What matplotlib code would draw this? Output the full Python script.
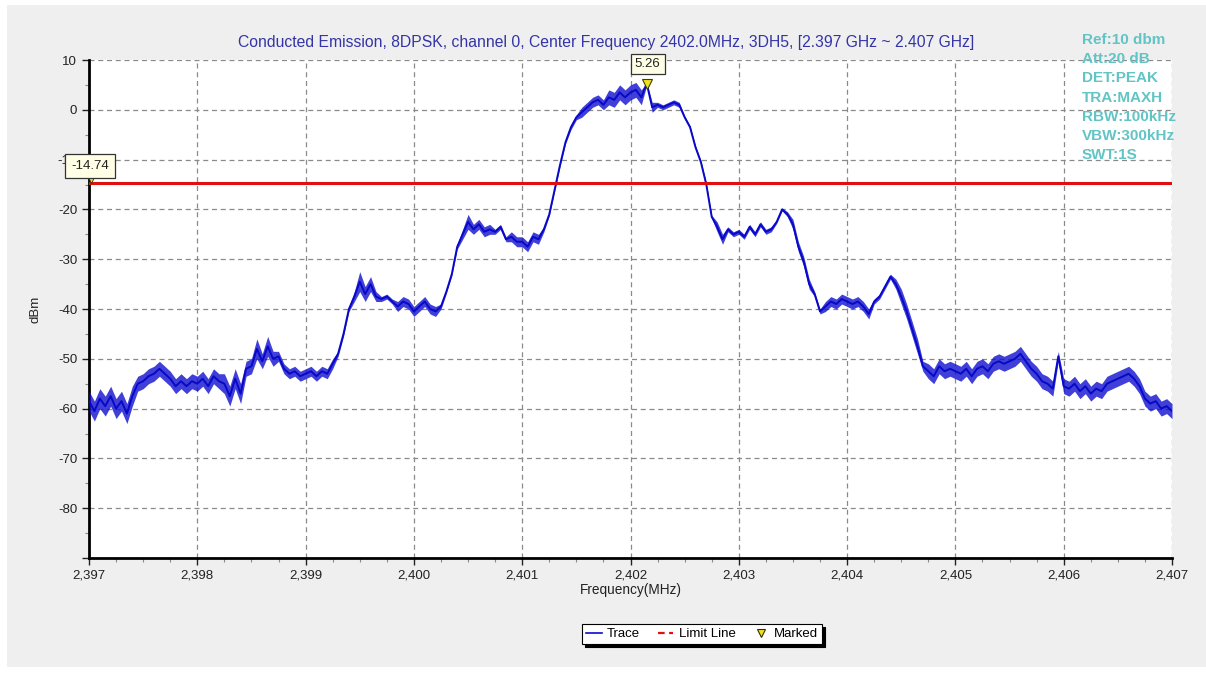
#!/usr/bin/env python3
import matplotlib
matplotlib.use("Agg")
import matplotlib.pyplot as plt
import numpy as np
from matplotlib.lines import Line2D
from matplotlib.patches import Rectangle
from matplotlib.ticker import FuncFormatter, MultipleLocator

# sweep grid, 0.05 MHz steps from 2397 to 2407 MHz
freq = np.round(np.arange(2397.0, 2407.0001, 0.05), 2)

# trace level (dBm), one row per MHz
level = (
    [-58.5, -60.5, -58, -59.5, -57.5, -60, -58.5, -61, -57.5, -55,
     -54.5, -53.5, -53, -52, -53, -54, -55.5, -54.5, -55.5, -54.5]
    + [-55, -54, -55.5, -53.5, -54.5, -55, -57.5, -54, -57, -52,
       -51.5, -48, -50.5, -47.5, -50, -49.5, -52, -53, -52.5, -53.5]
    + [-53, -52.5, -53.5, -52.5, -53, -51, -49, -45, -40, -37.5,
       -34.5, -37, -35, -37.5, -38, -37.5, -38.5, -39.5, -38.5, -39]
    + [-40.5, -39.5, -38.5, -40, -40.5, -39.5, -36.5, -33, -27.5, -25,
       -22.5, -24, -23, -24.5, -24, -24.5, -23.5, -26, -25.5, -26.5]
    + [-26.5, -27.5, -25.5, -26, -24, -21, -16, -11, -6.5, -3.5,
       -1.5, -0.5, 0.5, 1.5, 2, 1, 2.5, 2, 3.5, 2.5]
    + [3.5, 4, 2.5, 5.26, 0.5, 1, 0.5, 1, 1.5, 1,
       -1.5, -3.5, -7.5, -10.5, -15, -21.5, -23.5, -26, -24, -25]
    + [-24.5, -25.5, -23.5, -25, -23, -24.5, -24, -22.5, -20, -21,
       -23, -27.5, -30.5, -35, -37, -40.5, -39.5, -38.5, -39, -38]
    + [-38.5, -39, -38.5, -39.5, -41, -38.5, -37.5, -35.5, -33.5, -35,
       -37.5, -40.5, -44, -47.5, -51.5, -52.5, -53.5, -51.5, -52.5, -52]
    + [-52.5, -53, -52, -53.5, -52, -51.5, -52.5, -51, -50.5, -51,
       -50.5, -50, -49, -50.5, -52, -53, -54.5, -55, -56, -49.5]
    + [-55.5, -56, -55, -56.5, -55.5, -57, -56, -56.5, -55, -54.5,
       -54, -53.5, -53, -54, -55.5, -58, -59, -58.5, -60, -59.5, -60.5]
)

# half-width of the noise fuzz around the trace (dB), same grid
spread = (
    [2, 2, 2, 2, 2, 2, 2, 2, 2, 1.5, 1.5, 1.5, 1.5, 1.5, 1.5, 1.5, 1.5, 1.5, 1.5, 1.5]
    + [1.5, 1.5, 1.5, 1.5, 1.5, 2, 2, 2, 2, 1.5, 1.5, 2, 1.5, 2, 1.5, 1, 1, 1, 1, 1]
    + [1, 1, 1, 1, 1, 1, 0.5, 0.5, 0.5, 1, 2, 1.5, 1.5, 1, 0.5, 0.5, 0.5, 1, 1, 1]
    + [1, 1, 1, 1, 1, 0.5, 0.3, 0.3, 0.5, 1, 1.5, 1, 1, 1, 1, 0.5, 0.5, 0.5, 1, 1]
    + [1, 1, 1, 1, 0.5, 0.3, 0.3, 0.3, 0.3, 0.5, 0.5, 1, 1, 1, 1, 1, 1.5, 1.5, 1.5, 1.5]
    + [1.5, 1.5, 1.5, 0.3, 1, 0.5, 0.5, 0.5, 0.5, 0.5, 0.3, 0.3, 0.3, 0.3, 0.3, 0.3, 1, 1, 0.5, 0.5]
    + [0.5, 0.5, 0.5, 0.5, 0.5, 0.5, 0.5, 0.3, 0.3, 0.5, 1, 1, 1, 1, 0.5, 0.5, 1, 1, 1, 1]
    + [1, 1, 1, 1, 1, 0.5, 0.5, 0.5, 0.5, 1, 1.5, 1.5, 1.5, 1.5, 1, 1.5, 1.5, 1.5, 1.5, 1.5]
    + [1.5, 1.5, 1.5, 1.5, 1.5, 1.5, 1.5, 1.5, 1.5, 1.5, 1.5, 1.5, 1.5, 1.5, 1.5, 1.5, 1.5, 1.5, 1.5, 1]
    + [1.5, 1.5, 1.5, 1.5, 1.5, 1.5, 1.5, 1.5, 1.5, 1.5, 1.5, 1.5, 1.5, 1.5, 1.5, 1.5, 1.5, 1.5, 1.5, 1.5, 1.5]
)

limit_level = -14.74
peak_freq = 2402.15
peak_level = 5.26

title = ("Conducted Emission, 8DPSK, channel 0, Center Frequency 2402.0MHz, "
         "3DH5, [2.397 GHz ~ 2.407 GHz]")
settings = ["Ref:10 dbm", "Att:20 dB", "DET:PEAK", "TRA:MAXH",
            "RBW:100kHz", "VBW:300kHz", "SWT:1S"]


def main() -> None:
    plt.rcParams["font.family"] = ["Liberation Sans", "DejaVu Sans"]
    W, H = 1206, 673
    fig = plt.figure(figsize=(W / 100, H / 100), dpi=100)
    fig.patch.set_facecolor("white")
    fig.patches.append(Rectangle((7 / W, 6 / H), 1199 / W, 662 / H,
                                 transform=fig.transFigure,
                                 facecolor="#efefef", edgecolor="none", zorder=-10))

    ax = fig.add_axes([89 / W, 1 - 558 / H, 1083 / W, 498 / H])
    ax.set_facecolor("white")
    ax.set_xlim(2397, 2407)
    ax.set_ylim(-90, 10)

    lv = np.array(level)
    sp = np.array(spread)
    ax.fill_between(freq, lv - sp, lv + sp, color="#1010d0", alpha=0.8,
                    lw=0, zorder=3)
    ax.plot(freq, level, color="#0808c8", lw=1.4, zorder=3)
    ax.axhline(limit_level, color="#e01010", lw=2.2, zorder=4)
    ax.plot([peak_freq], [peak_level], marker="v", ms=7, color="#f0e020",
            mec="#404000", mew=0.8, ls="none", zorder=5)
    ax.plot([2397.02], [limit_level + 0.6], marker="v", ms=4, color="#f0e020",
            mec="#303000", mew=0.6, ls="none", zorder=5, clip_on=False)

    box = dict(boxstyle="square,pad=0.3", fc="#ffffe6", ec="#333333", lw=0.9)
    ax.annotate(f"{peak_level:.2f}", xy=(peak_freq, peak_level),
                xytext=(1, 20), textcoords="offset pixels", ha="center",
                va="center", fontsize=9.5, color="#222222", bbox=box, zorder=6)
    wide_box = dict(box, boxstyle="square,pad=0.45")
    ax.annotate(f"{limit_level:.2f}", xy=(2397, limit_level),
                xytext=(1, 17), textcoords="offset pixels", ha="center",
                va="center", fontsize=9.5, color="#222222", bbox=wide_box,
                zorder=6, annotation_clip=False)

    ax.xaxis.set_major_locator(MultipleLocator(1))
    ax.xaxis.set_minor_locator(MultipleLocator(0.25))
    ax.yaxis.set_major_locator(MultipleLocator(10))
    ax.yaxis.set_minor_locator(MultipleLocator(5))
    ax.xaxis.set_major_formatter(FuncFormatter(lambda v, p: f"{v:,.0f}"))
    ax.yaxis.set_major_formatter(
        FuncFormatter(lambda v, p: "" if v < -85 else f"{v:.0f}"))
    ax.tick_params(axis="both", which="major", length=5, width=1,
                   labelsize=9.5, colors="#222222")
    ax.tick_params(axis="both", which="minor", length=3, width=0.8,
                   color="#888888")
    ax.grid(True, which="major", color="#8a8a8a", ls=(0, (4, 3)), lw=0.9)
    ax.set_axisbelow(True)

    for side in ("top", "right"):
        ax.spines[side].set_visible(False)
    for side in ("left", "bottom"):
        ax.spines[side].set_linewidth(2)
        ax.spines[side].set_color("black")

    ax.set_xlabel("Frequency(MHz)", fontsize=9.8, labelpad=1, color="#222222")
    ax.set_ylabel("dBm", fontsize=9.5, labelpad=12, color="#222222")

    fig.text(606 / W, 1 - 42 / H, title, ha="center", va="center",
             fontsize=11.3, color="#3434a8")
    for i, s in enumerate(settings):
        fig.text(1082 / W, 1 - (40 + i * 19.2) / H, s, ha="left", va="center",
                 fontsize=11, fontweight="bold", color="#62c4c4")

    handles = [
        Line2D([], [], color="#0a0ad0", lw=1.2),
        Line2D([], [], color="#e01010", lw=1.6, ls=(0, (3, 2))),
        Line2D([], [], marker="v", ms=6, color="#f0e020", mec="#303000",
               mew=0.8, ls="none"),
    ]
    leg = fig.legend(handles, ["Trace", "Limit Line", "Marked"], ncol=3,
                     loc="center", bbox_to_anchor=(702 / W, 1 - 634 / H),
                     fontsize=9.5, frameon=True, fancybox=False,
                     shadow={"color": "black", "alpha": 1},
                     handlelength=1.2, handletextpad=0.4, columnspacing=1.3,
                     borderpad=0.3)
    leg.get_frame().set_edgecolor("black")
    leg.get_frame().set_linewidth(0.8)

    fig.savefig("out.png", dpi=100)
    plt.close(fig)


if __name__ == "__main__":
    main()
